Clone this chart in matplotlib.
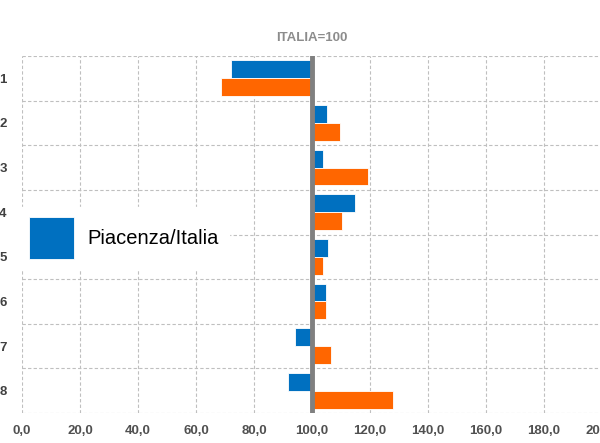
import matplotlib.pyplot as plt
import numpy as np

categories = ["1", "2", "3", "4", "5", "6", "7", "8"]
piacenza = [72.2, 105.3, 103.8, 114.8, 105.6, 104.9, 94.0, 91.8]
altro = [68.5, 109.5, 119.2, 110.5, 103.9, 104.9, 106.4, 127.8]
x_ticks = np.arange(0, 201, 20)

fig = plt.figure(figsize=(6, 4.43), dpi=100)
ax = fig.add_axes([22 / 600, 1 - 413 / 443, 580 / 600, 357 / 443])

y = np.arange(1, len(categories) + 1)
h = 0.4
ax.barh(y - h / 2, np.array(piacenza) - 100, left=100, height=h,
        color="#0070C0", edgecolor="white", linewidth=0.6,
        label="Piacenza/Italia", zorder=3)
ax.barh(y + h / 2, np.array(altro) - 100, left=100, height=h,
        color="#FF6600", edgecolor="white", linewidth=0.6, zorder=3)
ax.axvline(100, color="#808080", lw=3.5, zorder=4)

ax.set_xlim(0, 200)
ax.set_ylim(8.5, 0.5)
ax.set_xticks(x_ticks)
ax.set_xticklabels([f"{v:.1f}".replace(".", ",") for v in x_ticks],
                   fontsize=9.5, fontweight="bold", color="#505050",
                   family="Liberation Sans")
ax.set_yticks(y)
ax.set_yticklabels(categories, fontsize=9.5, fontweight="bold",
                   color="#404040", family="Liberation Sans")
ax.set_yticks(np.arange(0.5, 9, 1), minor=True)
ax.tick_params(which="both", length=0)
ax.tick_params(axis="y", pad=11)
ax.tick_params(axis="x", pad=9)

ax.grid(axis="x", which="major", color="#BFBFBF", ls=(0, (3, 2)), lw=0.8)
ax.grid(axis="y", which="minor", color="#BFBFBF", ls=(0, (3, 2)), lw=0.8)
ax.set_axisbelow(True)
for s in ax.spines.values():
    s.set_visible(False)

fig.text(312 / 600, 1 - 38 / 443, "ITALIA=100", ha="center", va="center",
         fontsize=9.5, fontweight="bold", color="#8C8C8C",
         family="Liberation Sans")

leg = ax.legend(loc="center left", bbox_to_anchor=(0.015, 1 - 238 / 443),
                bbox_transform=fig.transFigure, frameon=True, fancybox=False,
                edgecolor="white", framealpha=1,
                handlelength=2.25, handleheight=2.8, handletextpad=0.65,
                borderpad=0.5, prop={"family": "Liberation Sans", "size": 14.5})
leg.set_zorder(5)

fig.savefig("out.png", dpi=100)
